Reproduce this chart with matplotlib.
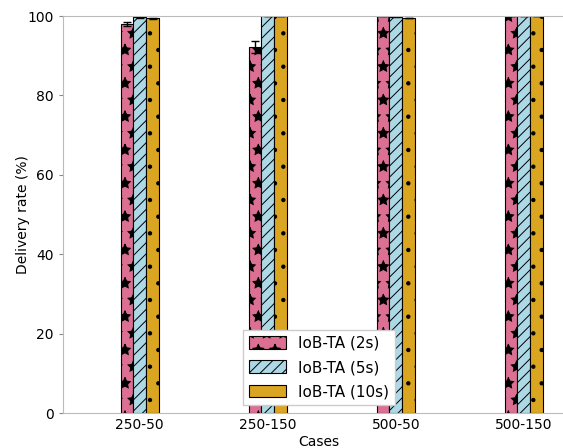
import numpy as np
import matplotlib.pyplot as plt

cases = ["250-50", "250-150", "500-50", "500-150"]
labels = ["IoB-TA (2s)", "IoB-TA (5s)", "IoB-TA (10s)"]
rate_2s = [98.0, 92.2, 100.0, 100.0]
rate_5s = [99.7, 100.0, 99.8, 100.0]
rate_10s = [99.4, 100.0, 99.5, 100.0]
err_2s = [0.5, 1.4, 0.0, 0.0]
err_5s = [0.2, 0.0, 0.1, 0.0]
err_10s = [0.2, 0.0, 0.1, 0.0]

colors = ["palevioletred", "lightblue", "goldenrod"]
hatches = ["*", "///", "."]

plt.rcParams['hatch.linewidth'] = 0.7

fig = plt.figure(figsize=(5.63, 4.48), dpi=100)
ax = fig.add_axes([63/563, 35/448, 512/563, 397/448])

x = np.arange(len(cases))
w = 0.1
series = [rate_2s, rate_5s, rate_10s]
errs = [err_2s, err_5s, err_10s]
for i, (vals, e) in enumerate(zip(series, errs)):
    ax.bar(x + (i - 1) * w, vals, w, yerr=e, color=colors[i], hatch=hatches[i],
           edgecolor="black", linewidth=0.8, label=labels[i],
           error_kw=dict(ecolor="black", elinewidth=1, capsize=3))

ax.set_xlim(-0.6, 3.4)
ax.set_ylim(0, 100)
ax.set_xticks(x)
ax.set_xticklabels(cases)
ax.set_yticks([0, 20, 40, 60, 80, 100])
ax.set_xlabel("Cases", labelpad=2)
ax.set_ylabel("Delivery rate (%)", labelpad=-1.5)

for s in ax.spines.values():
    s.set_color("#bbbbbb")
ax.tick_params(axis="y", color="#888888", length=3, direction="out")
ax.tick_params(axis="x", length=0)

ax.legend(loc="lower center", fontsize=11, bbox_to_anchor=(0.5, 0.0),
          handlelength=2.4, handleheight=0.9, labelspacing=0.6,
          fancybox=False, framealpha=1, edgecolor="#cccccc")

plt.savefig("out.png", dpi=100)
